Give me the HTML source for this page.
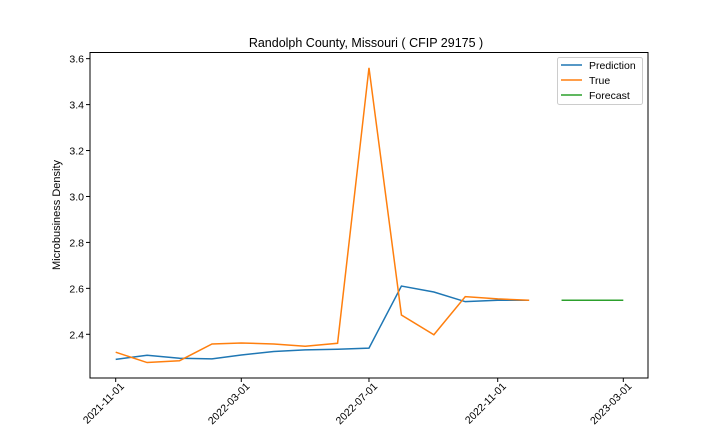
<!DOCTYPE html>
<html><head><meta charset="utf-8"><style>
body{margin:0;background:#fff;font-family:"Liberation Sans","DejaVu Sans",sans-serif}
svg text{font-family:"Liberation Sans","DejaVu Sans",sans-serif;fill:#000}
</style></head><body>
<svg id="chart" width="720" height="432" viewBox="0 0 720 432">
<rect width="720" height="432" fill="#fff"/>
<text x="366" y="47" font-size="12.5" text-anchor="middle">Randolph County, Missouri ( CFIP 29175 )</text>
<g id="yticks"></g><g id="xticks"></g>
<g id="series"></g>
<rect x="90" y="52.5" width="558" height="325.5" fill="none" stroke="#000" stroke-width="1"/>
<text transform="translate(60,215) rotate(-90)" font-size="11" text-anchor="middle">Microbusiness Density</text>
<g>
<rect x="557.5" y="57.5" width="85" height="47" rx="2" fill="#fff" stroke="#ccc"/>
<g><line x1="561" y1="65" x2="582" y2="65" stroke="#1f77b4" stroke-width="1.5"/><text x="589" y="69" font-size="10.5">Prediction</text></g>
<g><line x1="561" y1="80" x2="582" y2="80" stroke="#ff7f0e" stroke-width="1.5"/><text x="589" y="84" font-size="10.5">True</text></g>
<g><line x1="561" y1="95" x2="582" y2="95" stroke="#2ca02c" stroke-width="1.5"/><text x="589" y="99" font-size="10.5">Forecast</text></g>
</g>
</svg>
<script>
const histDates=["2021-11-01","2021-12-01","2022-01-01","2022-02-01","2022-03-01","2022-04-01","2022-05-01","2022-06-01","2022-07-01","2022-08-01","2022-09-01","2022-10-01","2022-11-01","2022-12-01"];
const predictionValues=[2.291,2.309,2.296,2.293,2.310,2.325,2.332,2.335,2.340,2.610,2.584,2.542,2.548,2.548];
const trueValues=[2.322,2.277,2.285,2.358,2.362,2.358,2.348,2.361,3.560,2.484,2.398,2.564,2.554,2.548];
const forecastDates=["2023-01-01","2023-02-01","2023-03-01"];
const forecastValues=[2.548,2.548,2.548];
const yTicks=[2.4,2.6,2.8,3.0,3.2,3.4,3.6];
const xTicks=["2021-11-01","2022-03-01","2022-07-01","2022-11-01","2023-03-01"];
const NS="http://www.w3.org/2000/svg";
const t0=Date.parse("2021-11-01");
function xs(d){return 115.7+(Date.parse(d)-t0)/86400000*1.0466;}
function ys(v){return 334.3-(v-2.4)*229.7;}
const yg=document.getElementById('yticks'),xg=document.getElementById('xticks'),sg=document.getElementById('series');
yTicks.forEach(v=>{
 const y=ys(v);
 const l=document.createElementNS(NS,'line');l.setAttribute('x1',86);l.setAttribute('x2',90);l.setAttribute('y1',y);l.setAttribute('y2',y);l.setAttribute('stroke','#000');
 
 
 yg.appendChild(l);
 const t=document.createElementNS(NS,'text');t.setAttribute('x',84);t.setAttribute('y',y+4);t.setAttribute('font-size','10.5');t.setAttribute('text-anchor','end');t.textContent=v.toFixed(1);
 
 
 yg.appendChild(t);
});
xTicks.forEach(d=>{
 const x=xs(d);
 const l=document.createElementNS(NS,'line');l.setAttribute('x1',x);l.setAttribute('x2',x);l.setAttribute('y1',378);l.setAttribute('y2',382);l.setAttribute('stroke','#000');
 
 
 xg.appendChild(l);
 const t=document.createElementNS(NS,'text');t.setAttribute('font-size','10.5');t.setAttribute('text-anchor','end');
 t.setAttribute('transform','translate('+(x+9)+',387) rotate(-45)');t.textContent=d;
 
 
 xg.appendChild(t);
});
function line(dates,vals,color,name){
 const p=document.createElementNS(NS,'polyline');
 p.setAttribute('points',dates.map((d,i)=>xs(d).toFixed(2)+','+ys(vals[i]).toFixed(2)).join(' '));
 p.setAttribute('fill','none');p.setAttribute('stroke',color);p.setAttribute('stroke-width','1.5');
 
 
 sg.appendChild(p);
}
line(histDates,predictionValues,'#1f77b4','prediction-line');
line(histDates,trueValues,'#ff7f0e','true-line');
line(forecastDates,forecastValues,'#2ca02c','forecast-line');
</script>
</body></html>
